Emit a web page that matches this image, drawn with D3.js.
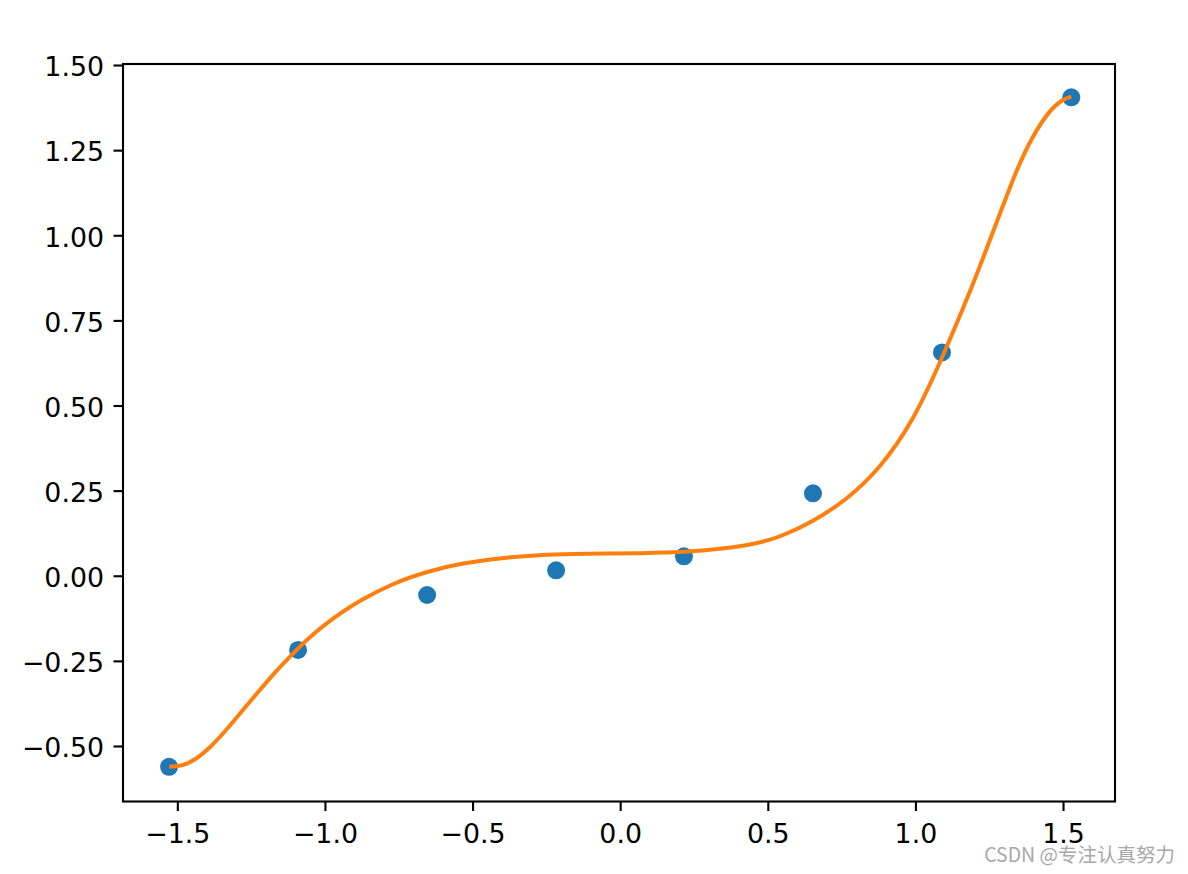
<!DOCTYPE html>
<html>
<head>
<meta charset="utf-8">
<script src="https://cdn.jsdelivr.net/npm/d3@7"></script>
<style>
  html, body { margin: 0; padding: 0; background: #fff; }
  svg { display: block; }
</style>
</head>
<body>
<svg id="chart" width="1188" height="874"></svg>
<script>
// Scatter data
const pointX = [-1.528, -1.091, -0.654, -0.217, 0.216, 0.653, 1.090, 1.528];
const pointY = [-0.561, -0.218, -0.0565, 0.016, 0.057, 0.242, 0.656, 1.405];

// Fitted curve samples
const curveX = [-1.527, -1.480, -1.440, -1.391, -1.334, -1.278, -1.221, -1.165, -1.108, -1.052, -0.995, -0.939, -0.882, -0.770, -0.656, -0.544, -0.385, -0.273, -0.160, -0.047, 0.066, 0.216, 0.348, 0.461, 0.540, 0.653, 0.766, 0.879, 0.992, 1.090, 1.184, 1.274, 1.342, 1.398, 1.455, 1.500, 1.528];
const curveY = [-0.561, -0.558, -0.541, -0.507, -0.453, -0.394, -0.336, -0.279, -0.228, -0.180, -0.140, -0.105, -0.073, -0.022, 0.012, 0.036, 0.054, 0.061, 0.064, 0.065, 0.066, 0.069, 0.079, 0.094, 0.113, 0.159, 0.222, 0.314, 0.452, 0.639, 0.830, 1.035, 1.192, 1.294, 1.368, 1.400, 1.407];

// Ticks
const xTicks = [-1.5, -1.0, -0.5, 0.0, 0.5, 1.0, 1.5];
const xTickLabels = ["\u22121.5", "\u22121.0", "\u22120.5", "0.0", "0.5", "1.0", "1.5"];
const yTicks = [-0.5, -0.25, 0.0, 0.25, 0.5, 0.75, 1.0, 1.25, 1.5];
const yTickLabels = ["\u22120.50", "\u22120.25", "0.00", "0.25", "0.50", "0.75", "1.00", "1.25", "1.50"];

const watermark = "CSDN @专注认真努力";

const plotLeft = 123, plotRight = 1115, plotTop = 64, plotBottom = 801.5;
const x = d3.scaleLinear().domain([-1.684, 1.676]).range([plotLeft, plotRight]);
const y = d3.scaleLinear().domain([-0.663, 1.503]).range([plotBottom, plotTop]);

const svg = d3.select("#chart");
const font = "DejaVu Sans";
const fontSize = "26.8px";

// Scatter points
svg.append("g").selectAll("circle")
  .data(pointX.map((v, i) => [v, pointY[i]]))
  .join("circle")
  .attr("cx", d => x(d[0]))
  .attr("cy", d => y(d[1]))
  .attr("r", 9)
  .attr("fill", "#1f77b4");

// Curve
const line = d3.line().x(d => x(d[0])).y(d => y(d[1])).curve(d3.curveBasis);
svg.append("path")
  .datum(curveX.map((v, i) => [v, curveY[i]]))
  .attr("d", line)
  .attr("fill", "none")
  .attr("stroke", "#ff7f0e")
  .attr("stroke-width", 4)
  .attr("stroke-linecap", "butt")
  .attr("stroke-linejoin", "round");

// Spines
svg.append("rect")
  .attr("x", plotLeft).attr("y", plotTop)
  .attr("width", plotRight - plotLeft).attr("height", plotBottom - plotTop)
  .attr("fill", "none").attr("stroke", "#000").attr("stroke-width", 2.1);

// X axis
const xAxis = d3.axisBottom(x).tickValues(xTicks)
  .tickFormat((d, i) => xTickLabels[i]).tickSize(9.5).tickPadding(13);
const gx = svg.append("g").attr("transform", `translate(0,${plotBottom})`).call(xAxis);
gx.attr("font-family", font).attr("font-size", 26.8);
gx.select(".domain").remove();
gx.selectAll(".tick line").attr("stroke", "#000").attr("stroke-width", 2.1);
gx.selectAll(".tick text").style("font-family", font).style("font-size", fontSize).attr("fill", "#000");

// Y axis
const yAxis = d3.axisLeft(y).tickValues(yTicks)
  .tickFormat((d, i) => yTickLabels[i]).tickSize(9.5).tickPadding(9.5);
const gy = svg.append("g").attr("transform", `translate(${plotLeft},0)`).call(yAxis);
gy.attr("font-family", font).attr("font-size", 26.8);
gy.select(".domain").remove();
gy.selectAll(".tick line").attr("stroke", "#000").attr("stroke-width", 2.1);
gy.selectAll(".tick text").style("font-family", font).style("font-size", fontSize)
  .attr("dy", "0.4em").attr("fill", "#000");

// Watermark
svg.append("text")
  .attr("x", 1175).attr("y", 862)
  .attr("text-anchor", "end")
  .style("font-family", "'Noto Sans CJK SC', sans-serif")
  .style("font-size", "19.5px")
  .attr("fill", "#a8a8a8")
  .text(watermark);
</script>
</body>
</html>
